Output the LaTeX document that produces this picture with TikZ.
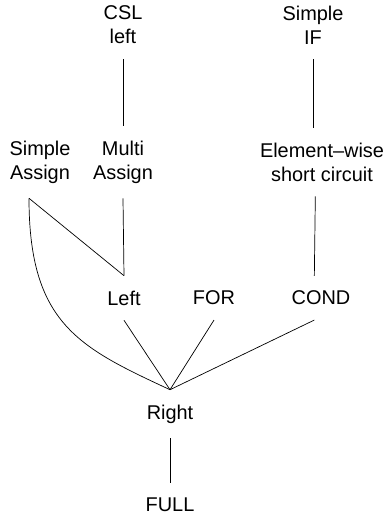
\documentclass[tikz,border=0pt]{standalone}
\usepackage{fontspec}
\setmainfont{Liberation Sans}

\begin{document}
\begin{tikzpicture}[lbl/.style={font=\fontsize{17}{20.5}\selectfont, align=center, inner sep=0pt, outer sep=0.45cm}, line width=0.6pt]
	\useasboundingbox (0,0) rectangle (11.64,15.63);
	\node [lbl] (CSL) at (3.69, 14.88) {CSL\\left};
	\node [lbl] (SIF) at (9.39, 14.88) {Simple\\IF};
	\node [lbl] (SA) at (1.20, 10.77) {Simple\\Assign};
	\node [lbl] (MA) at (3.69, 10.77) {Multi\\Assign};
	\node [lbl] (EW) at (9.66, 10.77) {Element--wise\\short circuit};
	\node [lbl] (L) at (3.72, 6.69) {Left};
	\node [lbl] (FOR) at (6.42, 6.69) {FOR};
	\node [lbl] (COND) at (9.63, 6.69) {COND};
	\node [lbl] (R) at (5.10, 3.21) {Right};
	\node [lbl] (FULL) at (5.10, 0.48) {FULL};
	\draw (CSL) -- (MA);
	\draw (SIF.south) -- (SIF.south |- EW.north);
	\draw ([xshift=-0.33cm]SA.south) -- (L.north);
	\draw ([xshift=-0.33cm]SA.south) .. controls +(0,-3.78) and +(-2.7,1.26) .. (R.north);
	\draw (MA.south) -- (L.north);
	\draw ([xshift=-0.2cm]EW.south) -- ([xshift=-0.2cm]COND.north);
	\draw (L.south) -- (R.north);
	\draw (FOR.south) -- (R.north);
	\draw ([xshift=-0.2cm]COND.south) -- (R.north);
	\draw (R) -- (FULL);
\end{tikzpicture}
\end{document}
